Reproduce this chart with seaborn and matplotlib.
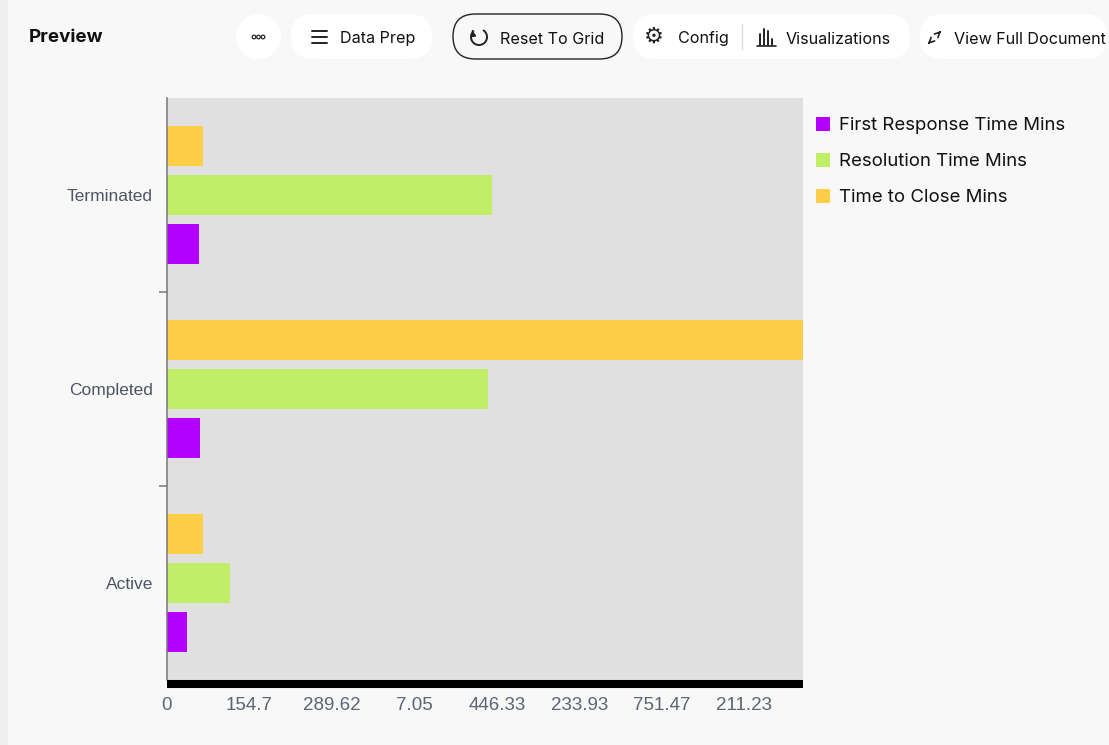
import matplotlib
matplotlib.use("Agg")
import matplotlib.pyplot as plt
import seaborn as sns
import pandas as pd
from matplotlib.patches import FancyBboxPatch, Rectangle, Arc, Circle

# ---------------- data ----------------
categories = ["Terminated", "Completed", "Active"]
series = ["First Response Time Mins", "Resolution Time Mins", "Time to Close Mins"]
first_response = [38.8, 40.0, 24.2]
resolution = [394.0, 389.1, 76.4]
time_to_close = [43.6, 771.0, 43.6]
colors = ["#b400ff", "#c0ee66", "#ffce47"]
tick_values = [0, 100, 200, 300, 400, 500, 600, 700]
tick_labels = ["0", "154.7", "289.62", "7.05", "446.33", "233.93", "751.47", "211.23"]
x_max = 771

values = {series[0]: first_response, series[1]: resolution, series[2]: time_to_close}
rows = []
for s in series:
    for c, v in zip(categories, values[s]):
        rows.append({"status": c, "series": s, "value": v})
df = pd.DataFrame(rows)

sns.set_style("white")
plt.rcParams["font.family"] = ["Liberation Sans", "DejaVu Sans"]

W, H = 1109, 745
BG = "#f8f8f8"
fig = plt.figure(figsize=(W / 100, H / 100), dpi=100, facecolor=BG)

# overlay axes in pixel coordinates for the page chrome
hx = fig.add_axes([0, 0, 1, 1])
hx.set_xlim(0, W)
hx.set_ylim(H, 0)
hx.axis("off")
hx.set_zorder(-1)
hx.add_patch(Rectangle((0, 0), 8, H, facecolor="#efefef", edgecolor="none"))

# main chart axes
left, right, top, bottom = 167, 803, 98, 680
ax = fig.add_axes([left / W, 1 - bottom / H, (right - left) / W, (bottom - top) / H])
ax.set_facecolor("#e0e0e0")

sns.barplot(data=df, x="value", y="status", hue="series", hue_order=series[::-1],
            order=categories, palette=dict(zip(series, colors)), orient="h",
            width=0.76, gap=0.18, saturation=1, errorbar=None, legend=False,
            linewidth=0, ax=ax)

ax.set_xlim(0, x_max)
ax.set_ylim(len(categories) - 0.5, -0.5)
ax.set_xlabel("")
ax.set_ylabel("")
ax.set_xticks(tick_values)
ax.set_xticklabels(tick_labels)
ax.tick_params(axis="x", length=0, pad=9, labelsize=13.5, labelcolor="#5b6573")
ax.tick_params(axis="y", which="major", left=True, length=0, pad=10, labelsize=12.5,
               labelcolor="#4d5561")
ax.set_yticks([0.5, 1.5], minor=True)
ax.tick_params(axis="y", which="minor", left=True, length=6, width=1.1, color="#777777",
               direction="out")
ax.grid(False)
for s in ["top", "right"]:
    ax.spines[s].set_visible(False)
ax.spines["left"].set_color("#777777")
ax.spines["left"].set_linewidth(1.1)
ax.spines["bottom"].set_color("black")
ax.spines["bottom"].set_linewidth(5.8)
ax.spines["bottom"].set_capstyle("butt")
ax.spines["bottom"].set_position(("outward", 3))

# legend (manual, pixel-placed)
for i, (s, c) in enumerate(zip(series, colors)):
    yc = 124 + 36 * i
    hx.add_patch(Rectangle((816, yc - 7), 14, 14, facecolor=c, edgecolor="none"))
    hx.text(839, yc + 2, s, fontsize=13.4, color="#111111", va="center", ha="left",
            family=["Inter", "DejaVu Sans"])

# ---------------- header chrome ----------------
hfont = ["Inter", "DejaVu Sans"]
hx.text(29, 38, "Preview", fontsize=13.5, fontweight="bold", color="#111111",
        va="center", ha="left", family=hfont)


def pill(x0, x1, y0=14, y1=59, fc="white", ec="none", lw=0):
    h = y1 - y0
    hx.add_patch(FancyBboxPatch((x0, y0), x1 - x0, h,
                                boxstyle=f"round,pad=0,rounding_size={h / 2}",
                                facecolor=fc, edgecolor=ec, linewidth=lw))


TY = 39
hx.add_patch(Circle((258.5, 36.5), 22.5, facecolor="white", edgecolor="none"))
for dx in (-4.5, 0, 4.5):
    hx.add_patch(Circle((258.5 + dx, 37), 1.8, facecolor="none", edgecolor="#222", linewidth=0.9))

pill(291, 432)
for yy in (31, 37, 43):
    hx.plot([312, 327], [yy, yy], color="#222", lw=1.4, solid_capstyle="round")
hx.text(340, TY, "Data Prep", fontsize=11.6, color="#111", va="center", ha="left", family=hfont)

pill(453, 622, fc=BG, ec="#222222", lw=1.0)
hx.add_patch(Arc((479, 37), 16, 16, theta1=-60, theta2=230, color="#222", lw=1.4))
hx.annotate("", xy=(472.5, 30.5), xytext=(473, 33.5),
            arrowprops=dict(arrowstyle="-|>", color="#222", lw=1.2, mutation_scale=7))
hx.text(500, TY, "Reset To Grid", fontsize=11.6, color="#111", va="center", ha="left",
        family=hfont)

pill(633, 910)
hx.text(654, 37, "\u2699", fontsize=16, color="#222", va="center", ha="center",
        family=["DejaVu Sans"])
hx.text(678, TY, "Config", fontsize=11.6, color="#111", va="center", ha="left", family=hfont)
hx.plot([742, 742], [24, 50], color="#dddddd", lw=1)
for bx, bt in zip([760, 764, 768, 772], [34, 29, 31, 39]):
    hx.plot([bx, bx], [bt, 45], color="#222", lw=1.4)
hx.plot([757, 776], [45.5, 45.5], color="#222", lw=1.2)
hx.text(786, TY, "Visualizations", fontsize=11.6, color="#111", va="center", ha="left",
        family=hfont)

pill(920, 1107)
hx.annotate("", xy=(926, 46), xytext=(932, 40),
            arrowprops=dict(arrowstyle="->", color="#222", lw=1.2, mutation_scale=9))
hx.annotate("", xy=(943, 29), xytext=(937, 35),
            arrowprops=dict(arrowstyle="->", color="#222", lw=1.2, mutation_scale=9))
hx.text(954, TY, "View Full Document", fontsize=11.6, color="#111", va="center", ha="left",
        family=hfont)

fig.savefig("out.png", dpi=100, facecolor=BG)
